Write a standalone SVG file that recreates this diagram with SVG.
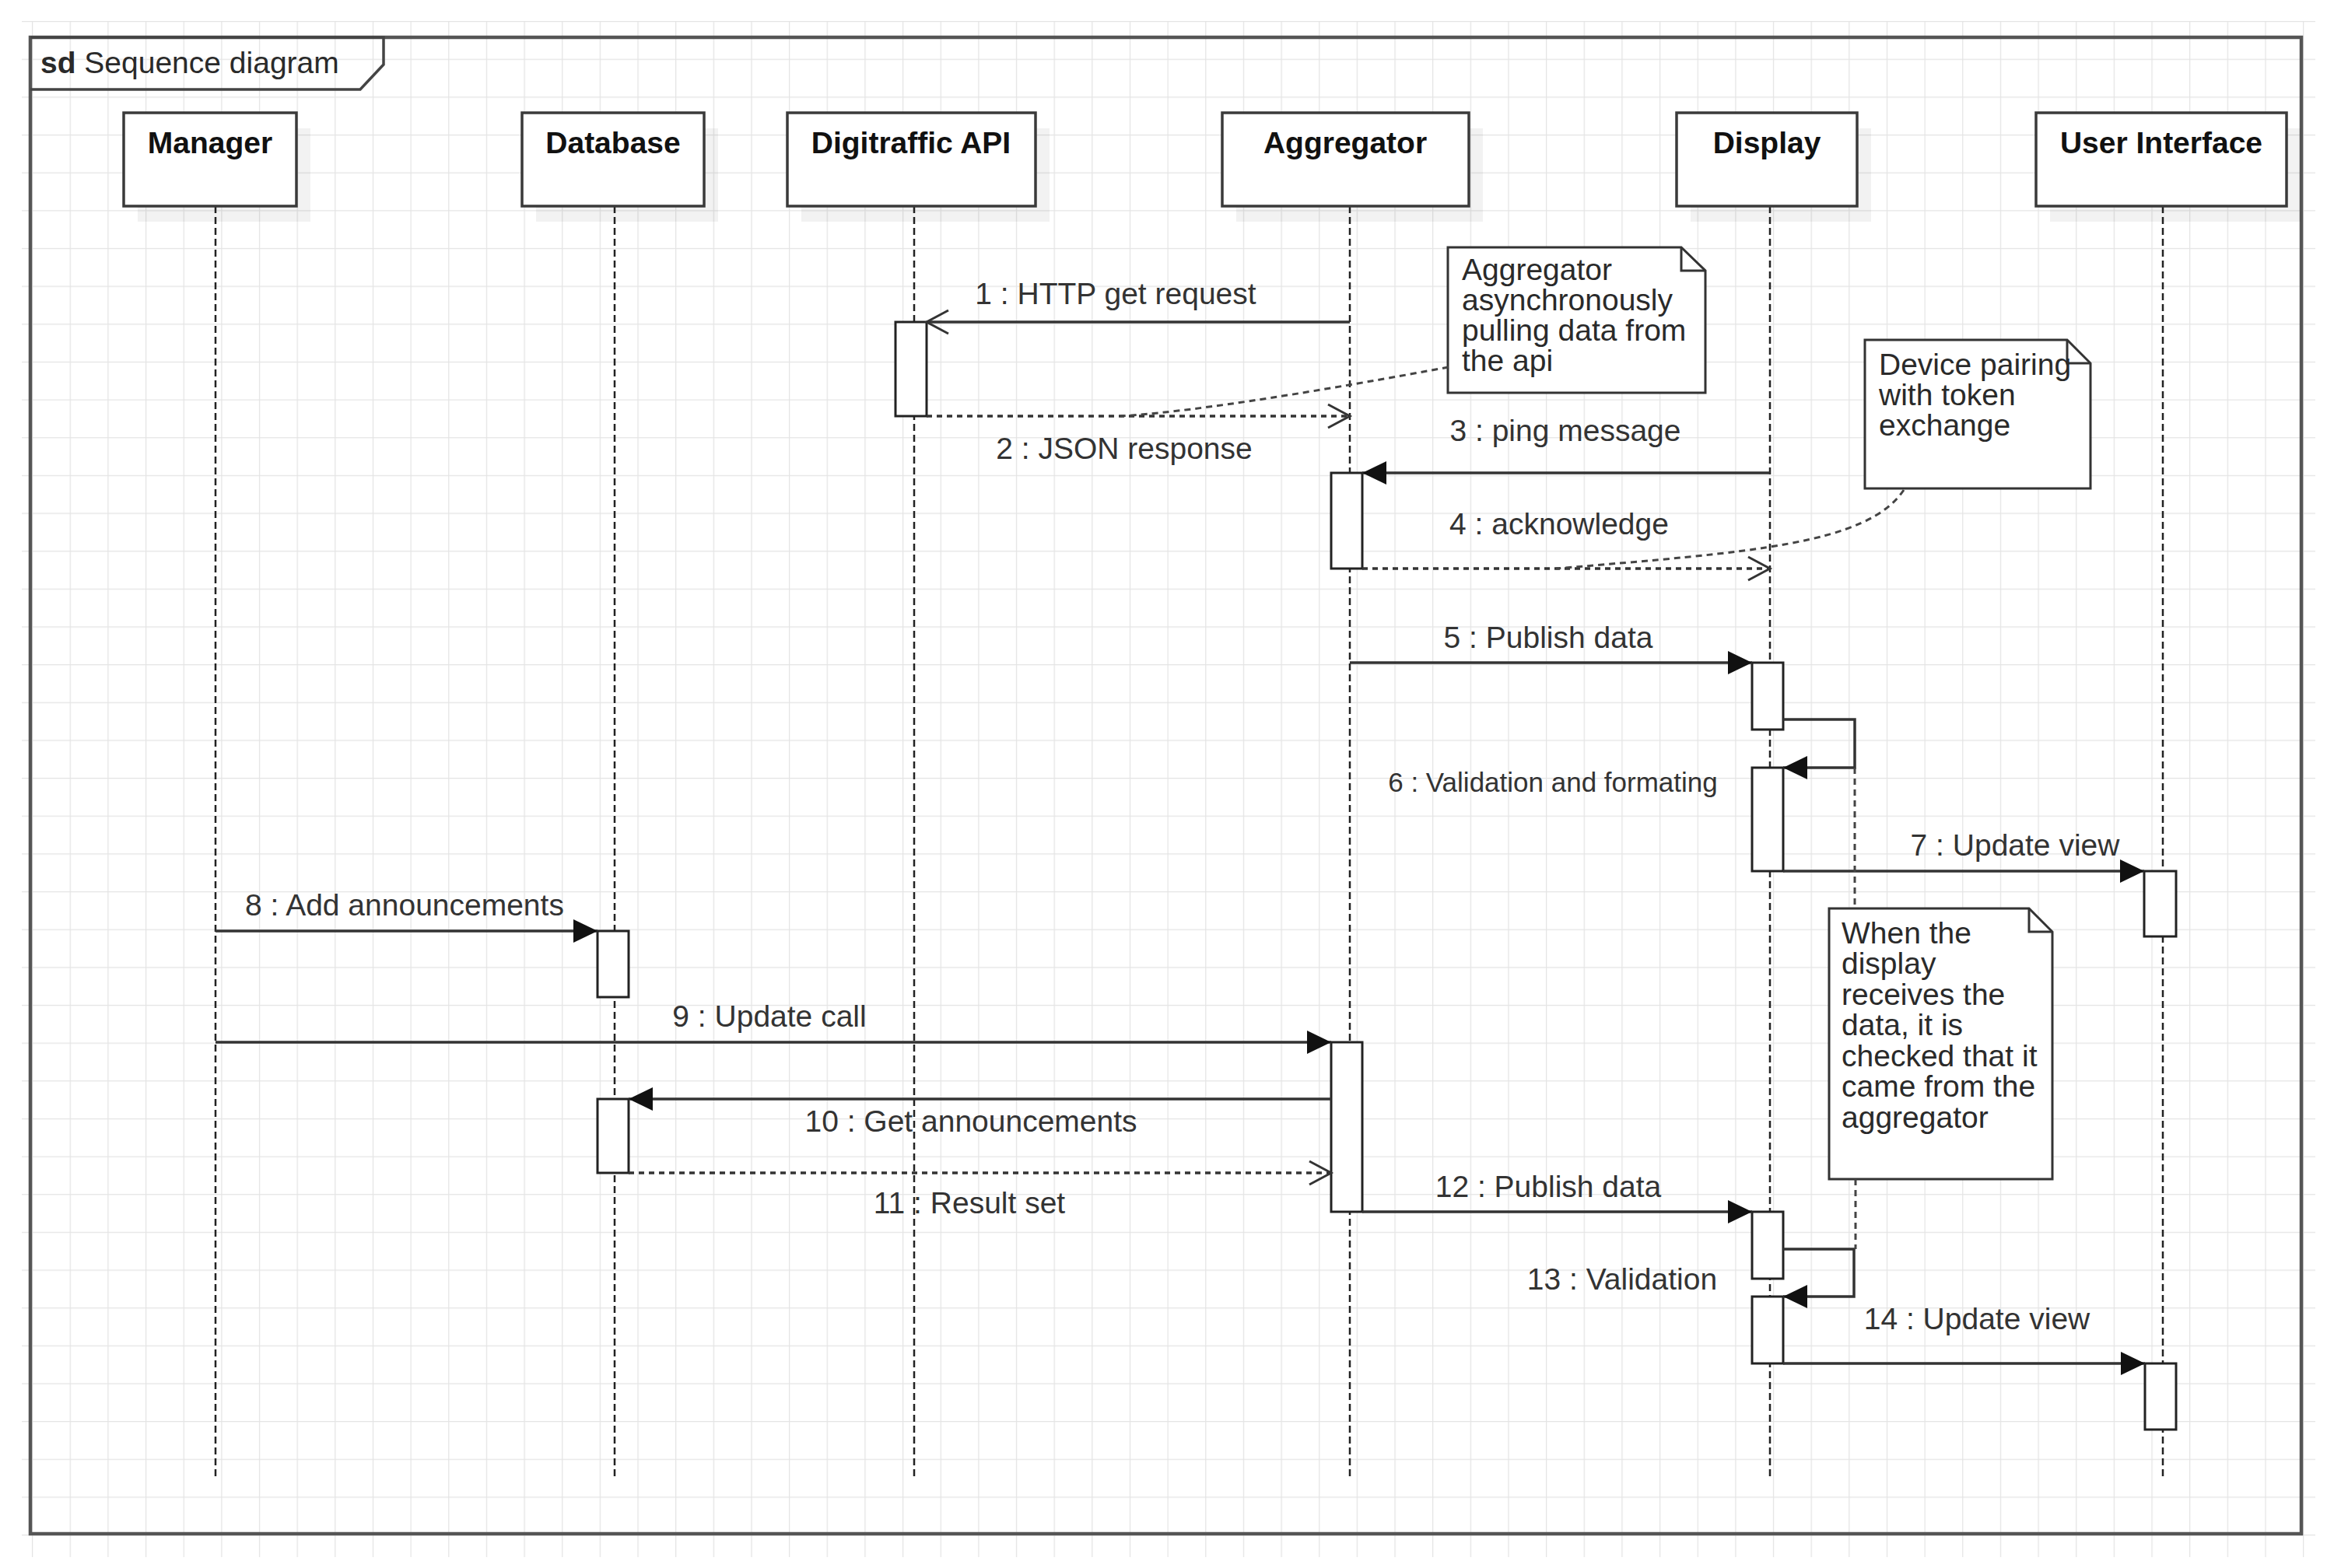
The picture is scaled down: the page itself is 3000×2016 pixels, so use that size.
<svg xmlns="http://www.w3.org/2000/svg" width="3000" height="2016" viewBox="0 0 3000 2016">
<style>
text{font-family:"Liberation Sans",Arial,sans-serif;font-size:39px;fill:#2a2a2a}
.hdr{font-weight:bold;fill:#111;text-anchor:middle}
.lbl{text-anchor:middle;fill:#333}
.sm{font-size:35px}
.box{fill:#fff;stroke:#3a3a3a;stroke-width:3.5}
.shadow{fill:#000;opacity:0.05}
.life{stroke:#222;stroke-width:2.5;stroke-dasharray:9 5;fill:none}
.act{fill:#fff;stroke:#222;stroke-width:3}
.msg{stroke:#333;stroke-width:3.5;fill:none}
.ret{stroke:#333;stroke-width:3.5;fill:none;stroke-dasharray:7 6}
.link{stroke:#444;stroke-width:3;fill:none;stroke-dasharray:8 6}
.note{fill:#fff;stroke:#333;stroke-width:3}
.fold{fill:none;stroke:#333;stroke-width:3}
</style>
<defs>
<pattern id="grid" x="41" y="27" width="48.65" height="48.65" patternUnits="userSpaceOnUse">
<path d="M0,0 H48.65 M0,0 V48.65" stroke="#e4e4e4" stroke-width="2.5" fill="none"/>
</pattern>
<marker id="filled" markerUnits="userSpaceOnUse" markerWidth="32" markerHeight="30" refX="31" refY="15" orient="auto" viewBox="0 0 32 30">
<path d="M0,0 L31,15 L0,30 Z" fill="#111"/>
</marker>
<marker id="open" markerUnits="userSpaceOnUse" markerWidth="34" markerHeight="34" refX="30" refY="17" orient="auto" viewBox="0 0 34 34">
<path d="M2,2 L30,17 L2,32" fill="none" stroke="#333" stroke-width="3"/>
</marker>
</defs>
<rect x="0" y="0" width="3000" height="2016" fill="#fff"/>
<rect x="28" y="27" width="2948" height="1975" fill="url(#grid)"/>

<g id="frame">
<rect x="39" y="48" width="2919" height="1924" fill="none" stroke="#555" stroke-width="4.5"/>
<path d="M39,48 H493 V83 L463,115 H39" fill="none" stroke="#444" stroke-width="3.5"/>
<text x="52" y="94"><tspan font-weight="bold">sd</tspan> Sequence diagram</text>
</g>

<g id="manager">
<rect class="shadow" x="177" y="165" width="222" height="120"/>
<line class="life" x1="277" y1="265" x2="277" y2="1900"/>
<rect class="box" x="159" y="145" width="222" height="120"/>
<text class="hdr" x="270" y="197">Manager</text>
</g>

<g id="database">
<rect class="shadow" x="689" y="165" width="234" height="120"/>
<line class="life" x1="790" y1="265" x2="790" y2="1900"/>
<rect class="box" x="671" y="145" width="234" height="120"/>
<text class="hdr" x="788" y="197">Database</text>
<rect class="act" x="768" y="1197" width="40" height="85"/>
<rect class="act" x="768" y="1413" width="40" height="95"/>
</g>

<g id="digitraffic">
<rect class="shadow" x="1030" y="165" width="319" height="120"/>
<line class="life" x1="1175" y1="265" x2="1175" y2="1900"/>
<rect class="box" x="1012" y="145" width="319" height="120"/>
<text class="hdr" x="1171" y="197">Digitraffic API</text>
<rect class="act" x="1151" y="414" width="40" height="121"/>
</g>

<g id="aggregator">
<rect class="shadow" x="1589" y="165" width="317" height="120"/>
<line class="life" x1="1735" y1="265" x2="1735" y2="1900"/>
<rect class="box" x="1571" y="145" width="317" height="120"/>
<text class="hdr" x="1729" y="197">Aggregator</text>
<rect class="act" x="1711" y="608" width="40" height="123"/>
<rect class="act" x="1711" y="1340" width="40" height="218"/>
</g>

<g id="display">
<rect class="shadow" x="2173" y="165" width="232" height="120"/>
<line class="life" x1="2275" y1="265" x2="2275" y2="1900"/>
<rect class="box" x="2155" y="145" width="232" height="120"/>
<text class="hdr" x="2271" y="197">Display</text>
<rect class="act" x="2252" y="852" width="40" height="86"/>
<rect class="act" x="2252" y="987" width="40" height="133"/>
<rect class="act" x="2252" y="1558" width="40" height="86"/>
<rect class="act" x="2252" y="1667" width="40" height="86"/>
</g>

<g id="user-interface">
<rect class="shadow" x="2635" y="165" width="322" height="120"/>
<line class="life" x1="2780" y1="265" x2="2780" y2="1900"/>
<rect class="box" x="2617" y="145" width="322" height="120"/>
<text class="hdr" x="2778" y="197">User Interface</text>
<rect class="act" x="2756" y="1120" width="41" height="84"/>
<rect class="act" x="2757" y="1753" width="40" height="85"/>
</g>

<g id="note-aggregator">
<path class="note" d="M1861,318 H2161 L2192,348 V505 H1861 Z"/>
<path class="fold" d="M2161,318 V348 H2192"/>
<text x="1879" y="360">Aggregator</text>
<text x="1879" y="399">asynchronously</text>
<text x="1879" y="438">pulling data from</text>
<text x="1879" y="477">the api</text>
</g>

<g id="note-pairing">
<path class="note" d="M2397,437 H2657 L2687,467 V628 H2397 Z"/>
<path class="fold" d="M2657,437 V467 H2687"/>
<text x="2415" y="482">Device pairing</text>
<text x="2415" y="521">with token</text>
<text x="2415" y="560">exchange</text>
</g>

<g id="note-validation">
<path class="note" d="M2351,1168 H2608 L2638,1198 V1516 H2351 Z"/>
<path class="fold" d="M2608,1168 V1198 H2638"/>
<text x="2367" y="1213">When the</text>
<text x="2367" y="1252">display</text>
<text x="2367" y="1292">receives the</text>
<text x="2367" y="1331">data, it is</text>
<text x="2367" y="1371">checked that it</text>
<text x="2367" y="1410">came from the</text>
<text x="2367" y="1450">aggregator</text>
</g>

<g id="connectors">
<line class="msg" x1="1735" y1="414" x2="1191" y2="414" marker-end="url(#open)"/>
<line class="ret" x1="1191" y1="535" x2="1735" y2="535" marker-end="url(#open)"/>
<line class="msg" x1="2275" y1="608" x2="1751" y2="608" marker-end="url(#filled)"/>
<line class="ret" x1="1751" y1="731" x2="2275" y2="731" marker-end="url(#open)"/>
<line class="msg" x1="1735" y1="852" x2="2252" y2="852" marker-end="url(#filled)"/>
<polyline class="msg" points="2292,925 2384,925 2384,987 2292,987" marker-end="url(#filled)"/>
<line class="msg" x1="2292" y1="1120" x2="2756" y2="1120" marker-end="url(#filled)"/>
<line class="msg" x1="277" y1="1197" x2="768" y2="1197" marker-end="url(#filled)"/>
<line class="msg" x1="277" y1="1340" x2="1711" y2="1340" marker-end="url(#filled)"/>
<line class="msg" x1="1711" y1="1413" x2="808" y2="1413" marker-end="url(#filled)"/>
<line class="ret" x1="808" y1="1508" x2="1711" y2="1508" marker-end="url(#open)"/>
<line class="msg" x1="1751" y1="1558" x2="2252" y2="1558" marker-end="url(#filled)"/>
<polyline class="msg" points="2292,1606 2383,1606 2383,1667 2292,1667" marker-end="url(#filled)"/>
<line class="msg" x1="2292" y1="1753" x2="2757" y2="1753" marker-end="url(#filled)"/>
<path class="link" d="M1862,472 Q1560,528 1440,535"/>
<path class="link" d="M2447,630 C2400,700 2250,710 2000,731"/>
<line class="link" x1="2384" y1="987" x2="2384" y2="1168"/>
<line class="link" x1="2385" y1="1516" x2="2385" y2="1606"/>
<text class="lbl" x="1434" y="391">1 : HTTP get request</text>
<text class="lbl" x="1445" y="590">2 : JSON response</text>
<text class="lbl" x="2012" y="567">3 : ping message</text>
<text class="lbl" x="2004" y="687">4 : acknowledge</text>
<text class="lbl" x="1990" y="833">5 : Publish data</text>
<text class="lbl sm" x="1996" y="1018">6 : Validation and formating</text>
<text class="lbl" x="2590" y="1100">7 : Update view</text>
<text class="lbl" x="520" y="1177">8 : Add announcements</text>
<text class="lbl" x="989" y="1320">9 : Update call</text>
<text class="lbl" x="1248" y="1455">10 : Get announcements</text>
<text class="lbl" x="1246" y="1560">11 : Result set</text>
<text class="lbl" x="1990" y="1539">12 : Publish data</text>
<text class="lbl" x="2085" y="1658">13 : Validation</text>
<text class="lbl" x="2541" y="1709">14 : Update view</text>
</g>
</svg>
